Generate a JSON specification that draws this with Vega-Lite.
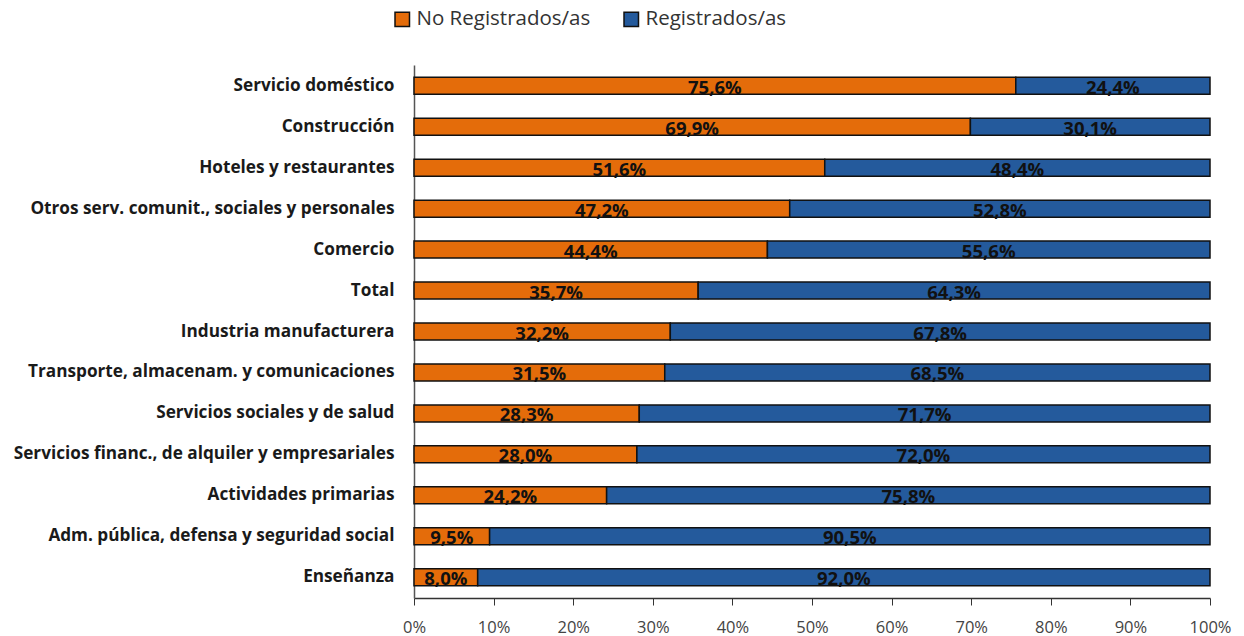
{
  "$schema": "https://vega.github.io/schema/vega-lite/v6.json",
  "width": 796,
  "height": 533,
  "autosize": {"type": "none"},
  "padding": {"left": 414, "top": 65, "right": 34, "bottom": 38},
  "background": "white",
  "config": {
    "locale": {"number": {"decimal": ",", "thousands": ".", "grouping": [3], "currency": ["", ""]}},
    "view": {"stroke": null},
    "font": "Open Sans"
  },
  "data": {"values": [
    {"cat": "Servicio doméstico", "serie": "No Registrados/as", "ord": 1, "v": 0.756},
    {"cat": "Servicio doméstico", "serie": "Registrados/as", "ord": 2, "v": 0.244},
    {"cat": "Construcción", "serie": "No Registrados/as", "ord": 1, "v": 0.699},
    {"cat": "Construcción", "serie": "Registrados/as", "ord": 2, "v": 0.301},
    {"cat": "Hoteles y restaurantes", "serie": "No Registrados/as", "ord": 1, "v": 0.516},
    {"cat": "Hoteles y restaurantes", "serie": "Registrados/as", "ord": 2, "v": 0.484},
    {"cat": "Otros serv. comunit., sociales y personales", "serie": "No Registrados/as", "ord": 1, "v": 0.472},
    {"cat": "Otros serv. comunit., sociales y personales", "serie": "Registrados/as", "ord": 2, "v": 0.528},
    {"cat": "Comercio", "serie": "No Registrados/as", "ord": 1, "v": 0.444},
    {"cat": "Comercio", "serie": "Registrados/as", "ord": 2, "v": 0.556},
    {"cat": "Total", "serie": "No Registrados/as", "ord": 1, "v": 0.357},
    {"cat": "Total", "serie": "Registrados/as", "ord": 2, "v": 0.643},
    {"cat": "Industria manufacturera", "serie": "No Registrados/as", "ord": 1, "v": 0.322},
    {"cat": "Industria manufacturera", "serie": "Registrados/as", "ord": 2, "v": 0.678},
    {"cat": "Transporte, almacenam. y comunicaciones", "serie": "No Registrados/as", "ord": 1, "v": 0.315},
    {"cat": "Transporte, almacenam. y comunicaciones", "serie": "Registrados/as", "ord": 2, "v": 0.685},
    {"cat": "Servicios sociales y de salud", "serie": "No Registrados/as", "ord": 1, "v": 0.283},
    {"cat": "Servicios sociales y de salud", "serie": "Registrados/as", "ord": 2, "v": 0.717},
    {"cat": "Servicios financ., de alquiler y empresariales", "serie": "No Registrados/as", "ord": 1, "v": 0.280},
    {"cat": "Servicios financ., de alquiler y empresariales", "serie": "Registrados/as", "ord": 2, "v": 0.720},
    {"cat": "Actividades primarias", "serie": "No Registrados/as", "ord": 1, "v": 0.242},
    {"cat": "Actividades primarias", "serie": "Registrados/as", "ord": 2, "v": 0.758},
    {"cat": "Adm. pública, defensa y seguridad social", "serie": "No Registrados/as", "ord": 1, "v": 0.095},
    {"cat": "Adm. pública, defensa y seguridad social", "serie": "Registrados/as", "ord": 2, "v": 0.905},
    {"cat": "Enseñanza", "serie": "No Registrados/as", "ord": 1, "v": 0.080},
    {"cat": "Enseñanza", "serie": "Registrados/as", "ord": 2, "v": 0.920}
  ]},
  "transform": [
    {"stack": "v", "groupby": ["cat"], "sort": [{"field": "ord", "order": "ascending"}], "as": ["v0", "v1"]},
    {"calculate": "(datum.v0 + datum.v1) / 2", "as": "mid"}
  ],
  "encoding": {
    "y": {
      "field": "cat", "type": "nominal", "sort": null, "title": null,
      "scale": {"paddingInner": 0.585, "paddingOuter": 0.3},
      "axis": {"ticks": false, "labelPadding": 20, "labelFontSize": 17.2, "labelFontWeight": "bold", "labelColor": "#1a1a1a", "labelFont": "Open Sans", "domainColor": "#555", "domainWidth": 1.5, "labelLimit": 420}
    }
  },
  "layer": [
    {
      "mark": {"type": "bar", "stroke": "#111", "strokeWidth": 1.5},
      "encoding": {
        "x": {"field": "v0", "type": "quantitative", "scale": {"domain": [0, 1]}, "title": null,
          "axis": {"format": ".0%", "values": [0, 0.1, 0.2, 0.3, 0.4, 0.5, 0.6, 0.7, 0.8, 0.9, 1], "grid": false, "labelFlush": false, "tickSize": 7, "tickColor": "#333", "domainColor": "#333", "domainWidth": 1.5, "labelFontSize": 16.5, "labelColor": "#444", "labelPadding": 14, "labelFont": "Open Sans"}},
        "x2": {"field": "v1"},
        "color": {"field": "serie", "type": "nominal",
          "scale": {"domain": ["No Registrados/as", "Registrados/as"], "range": ["#E46C0A", "#245A9C"]},
          "legend": {"title": null, "orient": "none", "legendX": -22, "legendY": -56, "direction": "horizontal", "symbolType": "square", "symbolSize": 210, "symbolStrokeColor": "#111", "symbolStrokeWidth": 1.5, "labelFontSize": 20.5, "labelLimit": 400, "labelColor": "#333", "labelFont": "Open Sans", "columnPadding": 30, "symbolOffset": 0, "labelOffset": 4}}
      }
    },
    {
      "mark": {"type": "text", "fontSize": 18.5, "fontWeight": "bold", "color": "#111", "baseline": "middle", "dy": 2},
      "encoding": {
        "x": {"field": "mid", "type": "quantitative"},
        "text": {"field": "v", "type": "quantitative", "format": ".1%"}
      }
    }
  ]
}
